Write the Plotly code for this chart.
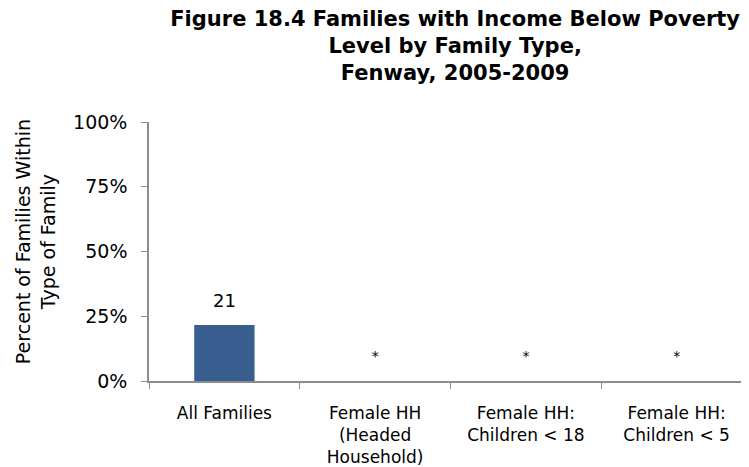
import plotly.graph_objects as go

# data
categories = ["All Families", "Female HH<br>(Headed<br>Household)",
              "Female HH:<br>Children < 18", "Female HH:<br>Children < 5"]
values = [21.6, None, None, None]
value_labels = ["21", "", "", ""]
suppressed = ["", "*", "*", "*"]
suppressed_y = [None, 9, 9, 9]

y_ticks = [0, 25, 50, 75, 100]
y_tick_text = ["0%", "25%", "50%", "75%", "100%"]

FONT = "DejaVu Sans, Liberation Sans, sans-serif"

fig = go.Figure()

fig.add_trace(go.Bar(
    x=categories, y=values,
    marker=dict(color="#375e8f", line=dict(width=0)),
    width=0.4, showlegend=False, hoverinfo="skip",
))

fig.add_trace(go.Scatter(
    x=categories, y=suppressed_y, mode="text", text=suppressed,
    textfont=dict(size=14, color="black", family=FONT),
    showlegend=False, hoverinfo="skip",
))

# value label above the bar
for cat, val, lab in zip(categories, values, value_labels):
    if val is None:
        continue
    fig.add_annotation(x=cat, y=val, text=lab, showarrow=False,
                       yanchor="bottom", yshift=12,
                       font=dict(size=18, color="black", family=FONT))

# y axis title as annotation
fig.add_annotation(
    xref="paper", yref="paper", x=-0.187, y=0.537,
    text="Percent of Families Within<br>Type of Family",
    textangle=-90, showarrow=False, xanchor="center", yanchor="middle",
    font=dict(size=19, color="black", family=FONT),
)

fig.update_layout(
    title=dict(
        text="<b>Figure 18.4 Families with Income Below Poverty<br>Level by Family Type,<br>Fenway, 2005-2009</b>",
        x=0.597, xanchor="center", y=0.962, yanchor="top",
        font=dict(size=21, color="black", family=FONT),
    ),
    width=749, height=467,
    margin=dict(l=141, r=5, t=114, b=94),
    plot_bgcolor="white", paper_bgcolor="white",
    font=dict(family=FONT, color="black"),
)

fig.update_yaxes(
    range=[0, 100], tickvals=y_ticks, ticktext=y_tick_text,
    showgrid=False, zeroline=False, automargin=False,
    showline=True, linecolor="#8c8c8c", linewidth=1.5,
    ticks="outside", ticklen=6, tickcolor="#8c8c8c",
    tickfont=dict(size=19, color="black"), ticklabelstandoff=10,
)

fig.update_xaxes(
    showgrid=False, automargin=False,
    showline=True, linecolor="#8c8c8c", linewidth=1.5,
    ticks="outside", ticklen=6, tickcolor="#8c8c8c", tickson="boundaries",
    tickfont=dict(size=17, color="black"), ticklabelstandoff=16,
)

fig.write_html("out.html")
